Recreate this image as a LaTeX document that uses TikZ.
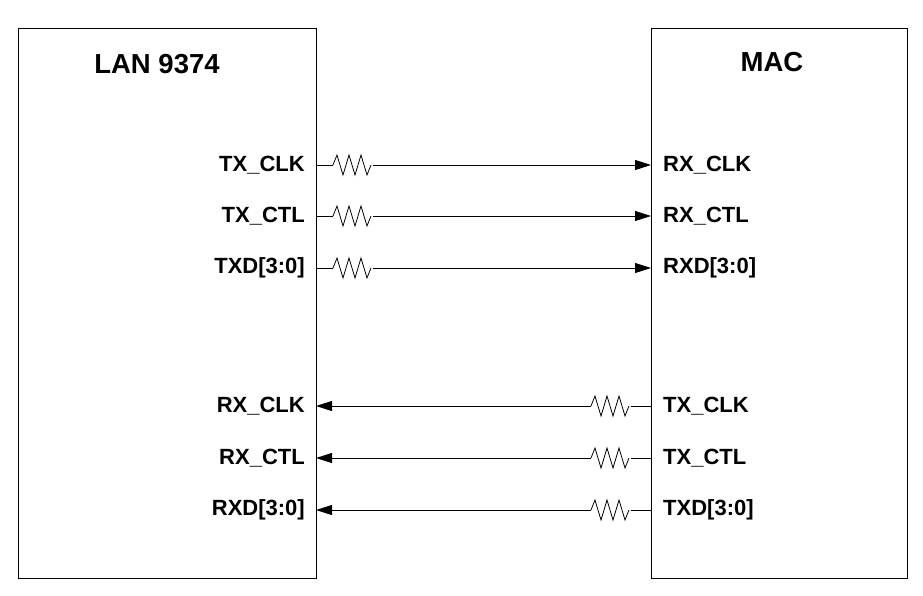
\documentclass[tikz,border=0pt]{standalone}
\usepackage{fontspec}
\setmainfont{Liberation Sans}
\usetikzlibrary{arrows.meta}
\begin{document}
\begin{tikzpicture}[x=1pt,y=-1pt,
  box/.style={draw,line width=0.8pt},
  lbl/.style={font=\fontsize{22}{22}\selectfont\bfseries,inner sep=0pt},
  ttl/.style={font=\fontsize{27.5}{27.5}\selectfont\bfseries,inner sep=0pt},
  wire/.style={line width=0.8pt,-{Triangle[length=16pt,width=10pt]}},
  res/.style={line width=0.8pt}]
\useasboundingbox (0,0) rectangle (923,595);
\draw[box] (18,28) rectangle (316,578);
\draw[box] (651,28) rectangle (907,578);
\node[ttl] (t1) at (157,64) {LAN 9374};
\node[ttl] (t2) at (772,62) {MAC};
\newcommand{\resistor}[2]{\draw[res] (#1,#2) -- ++(4,-10) -- ++(6,20) -- ++(6,-20) -- ++(6,20) -- ++(6,-20) -- ++(6,20) -- ++(4,-10);}
\foreach \y/\a/\b [count=\i] in {165/TX\_CLK/RX\_CLK,216/TX\_CTL/RX\_CTL,268/TXD[3:0]/RXD[3:0]}{
  \node[lbl,anchor=east] (l\i) at (305,\y) {\a};
  \node[lbl,anchor=west] (r\i) at (663,\y) {\b};
  \coordinate (a\i) at (316,\y); \coordinate (b\i) at (651,\y);
  \coordinate (s\i) at (333,\y); \coordinate (e\i) at (373,\y);
  \draw[res] (a\i) -- (s\i);
  \resistor{333}{\y}
  \draw[wire] (e\i) -- (b\i);
}
\foreach \y/\a/\b [count=\i from 4] in {406/RX\_CLK/TX\_CLK,458/RX\_CTL/TX\_CTL,510/RXD[3:0]/TXD[3:0]}{
  \node[lbl,anchor=east] (l\i) at (305,\y) {\a};
  \node[lbl,anchor=west] (r\i) at (663,\y) {\b};
  \coordinate (a\i) at (316,\y); \coordinate (b\i) at (651,\y);
  \coordinate (s\i) at (591,\y); \coordinate (e\i) at (631,\y);
  \draw[res] (e\i) -- (b\i);
  \resistor{591}{\y}
  \draw[wire] (s\i) -- (a\i);
}
\end{tikzpicture}
\end{document}
